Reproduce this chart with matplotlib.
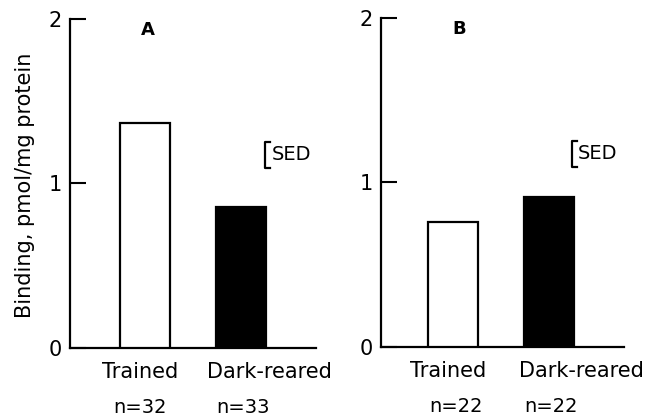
import matplotlib
matplotlib.use('Agg')
import matplotlib.pyplot as plt

# binding values (pmol/mg protein)
groups = ['Trained', 'Dark-reared']
panel_names = ['A', 'B']
binding_a = [1.37, 0.86]
binding_b = [0.76, 0.91]
n_a = ['n=32', 'n=33']
n_b = ['n=22', 'n=22']
sed = [0.16, 0.16]
sed_base = [1.094, 1.094]
yticks = [0, 1, 2]

plt.rcParams['font.family'] = 'DejaVu Sans'

fig = plt.figure(figsize=(6.62, 4.17), dpi=100)
ax_a = fig.add_axes([0.1057, 0.1655, 0.3716, 0.789])
ax_b = fig.add_axes([0.5755, 0.1679, 0.367, 0.789])

# layout per panel: xlim, group label x, n label x, sed bracket x
layout = [
    dict(xlim=(-0.78, 1.78), lab_x=[-0.05, 1.30], n_x=[-0.05, 1.02], sed_x=1.25),
    dict(xlim=(-0.755, 1.776), lab_x=[-0.06, 1.33], n_x=[0.03, 1.02], sed_x=1.235),
]

for i, (ax, vals, ns) in enumerate(zip([ax_a, ax_b], [binding_a, binding_b], [n_a, n_b])):
    lay = layout[i]
    ax.bar([0, 1], vals, width=0.52, color=['white', 'black'],
           edgecolor='black', linewidth=1.6, zorder=3)
    ax.set_xlim(*lay['xlim'])
    ax.set_ylim(0, 2)
    ax.set_yticks(yticks)
    ax.set_yticklabels([str(t) for t in yticks], fontsize=15)
    ax.set_xticks([])
    ax.tick_params(axis='y', direction='in', length=11.5, width=1.5, pad=6)
    for s in ['top', 'right']:
        ax.spines[s].set_visible(False)
    for s in ['left', 'bottom']:
        ax.spines[s].set_linewidth(1.6)
    ax.patch.set_visible(False)

    ax.text(lay['xlim'][0] + 0.81, 1.93, panel_names[i], fontsize=13,
            fontweight='bold', ha='center', va='center')

    for x, g in zip(lay['lab_x'], groups):
        ax.text(x, -0.146, g, fontsize=15, ha='center', va='center', clip_on=False)
    for x, n in zip(lay['n_x'], ns):
        ax.text(x, -0.36, n, fontsize=14, ha='center', va='center', clip_on=False)

    # SED scale bracket
    sx = lay['sed_x']
    y0, y1 = sed_base[i], sed_base[i] + sed[i]
    ax.plot([sx + 0.05, sx, sx, sx + 0.05], [y1, y1, y0, y0],
            color='black', linewidth=1.6, clip_on=False)
    ax.text(sx + 0.065, (y0 + y1) / 2, 'SED', fontsize=14, ha='left', va='center')

fig.text(0.038, 0.555, 'Binding, pmol/mg protein', rotation=90,
         fontsize=15, ha='center', va='center')

fig.savefig('out.png', dpi=100)
